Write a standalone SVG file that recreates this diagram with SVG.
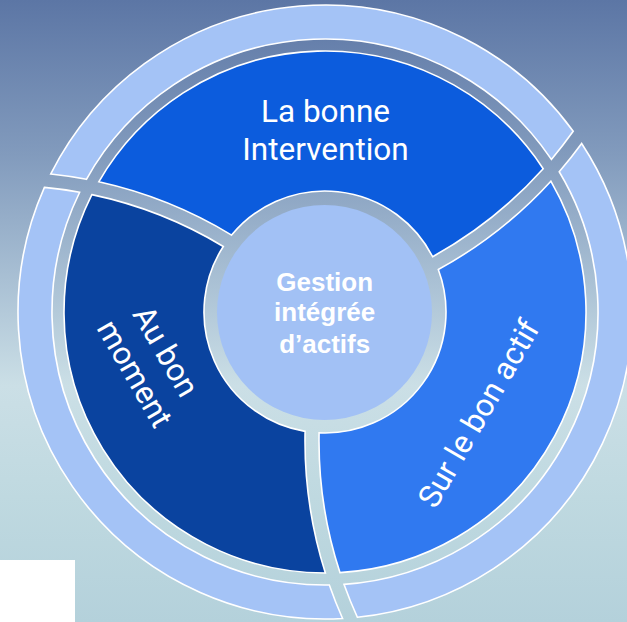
<svg xmlns="http://www.w3.org/2000/svg" xmlns:xlink="http://www.w3.org/1999/xlink" width="627" height="622" viewBox="0 0 627 622">
  <defs>
    <linearGradient id="bg" x1="0" y1="0" x2="0" y2="1">
      <stop offset="0" stop-color="#5c76a5"/>
      <stop offset="0.25" stop-color="#829bbd"/>
      <stop offset="0.45" stop-color="#a9c0d4"/>
      <stop offset="0.62" stop-color="#cbdfe6"/>
      <stop offset="0.8" stop-color="#bfd9e0"/>
      <stop offset="1" stop-color="#b4d1db"/>
    </linearGradient>
    <!-- one inner segment (right); the others are this shape turned by 120 and 240 degrees -->
    <path id="seg" d="M 550.86 181.18 A 261 261 0 0 1 339.94 572.58 A 424 424 0 0 1 319.08 432.86 A 121 121 0 0 0 438.31 269.55 A 438 438 0 0 0 550.86 181.18 Z"/>
    <!-- one piece of the outer band, same construction -->
    <path id="band" d="M 581.65 143.53 A 307 307 0 0 1 357.38 617.29 A 424 424 0 0 1 343.96 584.35 A 273 273 0 0 0 559.23 171.76 A 438 438 0 0 0 581.65 143.53 Z"/>
  </defs>
  <style>
    .edge { stroke: #ffffff; stroke-width: 1.6; stroke-linejoin: miter; }
    .band { fill: #a4c3f6; }
    .label { font-family: Roboto, "Liberation Sans", sans-serif; font-size: 31.5px; fill: #ffffff; text-anchor: middle; }
    .core { font-family: "Liberation Sans", Arial, sans-serif; font-weight: bold; font-size: 26px; fill: #ffffff; text-anchor: middle; }
  </style>

  <rect x="0" y="0" width="627" height="622" fill="url(#bg)"/>
  <rect x="0" y="560" width="75" height="62" fill="#ffffff"/>

  <g id="outer-ring">
    <use xlink:href="#band" class="band edge"/>
    <use xlink:href="#band" class="band edge" transform="rotate(120 325 312)"/>
    <use xlink:href="#band" class="band edge" transform="rotate(240 325 312)"/>
  </g>

  <g id="node-intervention">
    <use xlink:href="#seg" class="edge" fill="#0c5cdd" transform="rotate(240 325 312)"/>
    <text class="label" x="325.5" y="122">La bonne</text>
    <text class="label" x="325.5" y="160">Intervention</text>
  </g>

  <g id="node-moment">
    <use xlink:href="#seg" class="edge" fill="#0a439f" transform="rotate(120 325 312)"/>
    <text class="label" transform="translate(151.5 364) rotate(60)">
      <tspan x="0" y="-8">Au bon</tspan>
      <tspan x="0" y="30">moment</tspan>
    </text>
  </g>

  <g id="node-actif">
    <use xlink:href="#seg" class="edge" fill="#3079f0"/>
    <text class="label" transform="translate(488 419) rotate(-60)" x="0" y="0">Sur le bon actif</text>
  </g>

  <g id="node-center">
    <circle cx="324.5" cy="312.5" r="107.5" fill="#a2c1f5"/>
    <text class="core" x="324.7" y="290.7">Gestion</text>
    <text class="core" x="324.7" y="321">intégrée</text>
    <text class="core" x="324.7" y="352.7">d’actifs</text>
  </g>
</svg>
